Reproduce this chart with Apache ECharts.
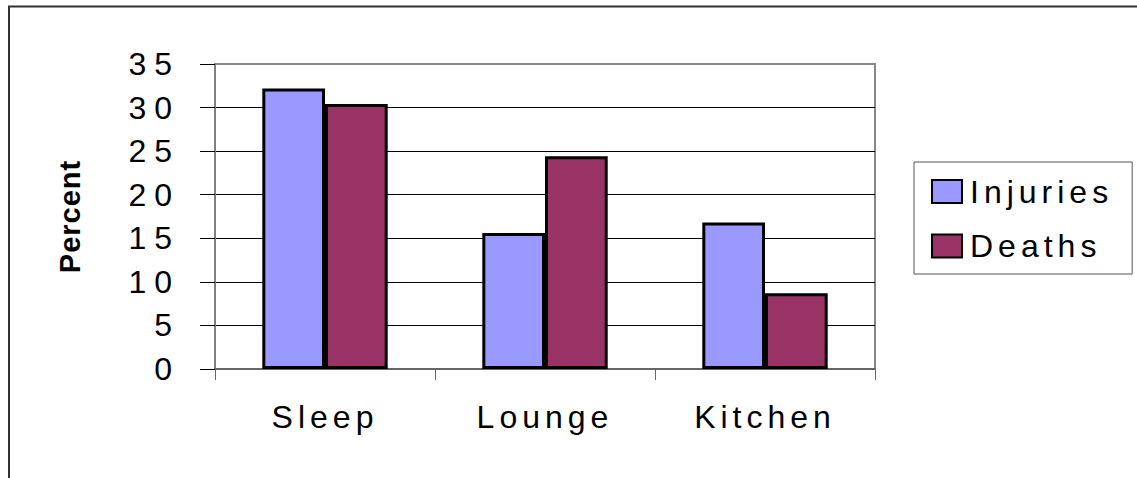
<!DOCTYPE html>
<html>
<head>
<meta charset="utf-8">
<script src="https://cdn.jsdelivr.net/npm/echarts@6/dist/echarts.min.js"></script>
<style>
html,body{margin:0;padding:0;background:#fff;}
#chart{width:1137px;height:478px;}
</style>
</head>
<body>
<div id="chart"></div>
<script>
const categories = ['Sleep', 'Lounge', 'Kitchen'];
const injuries = [32.2, 15.6, 16.8];
const deaths = [30.4, 24.4, 8.7];
const yTicks = [0, 5, 10, 15, 20, 25, 30, 35];
const seriesNames = ['Injuries', 'Deaths'];
const axisTitle = 'Percent';

const FONT = '"Liberation Sans", Arial, sans-serif';
const chart = echarts.init(document.getElementById('chart'), null, {renderer: 'svg'});
chart.setOption({
  animation: false,
  backgroundColor: '#fff',
  graphic: [{
    type: 'rect', silent: true, z: 100,
    shape: {x: 9, y: 6.5, width: 1400, height: 700},
    style: {fill: 'none', stroke: '#333', lineWidth: 2}
  }],
  grid: {
    left: 215, top: 64, width: 660, height: 305,
    show: true, borderColor: '#888', borderWidth: 2, backgroundColor: 'transparent'
  },
  legend: {
    data: seriesNames,
    orient: 'vertical',
    left: 914, top: 162,
    padding: [13.5, 59, 12, 17],
    itemWidth: 30, itemHeight: 23, itemGap: 22.5,
    icon: 'rect',
    borderColor: '#555', borderWidth: 1,
    textStyle: {fontFamily: FONT, fontSize: 32, color: '#000', padding: [0, 0, 0, 3]}
  },
  xAxis: {
    type: 'category',
    data: categories,
    axisLine: {lineStyle: {color: '#666', width: 2}},
    axisTick: {show: true, length: 11, lineStyle: {color: '#666', width: 1}},
    axisLabel: {fontFamily: FONT, fontSize: 32, color: '#000', margin: 32}
  },
  yAxis: {
    type: 'value',
    min: 0, max: 35, interval: 5,
    name: axisTitle,
    nameLocation: 'middle',
    nameGap: 131,
    nameRotate: 90,
    nameTextStyle: {fontFamily: FONT, fontSize: 29, fontWeight: 'bold', color: '#000'},
    axisLine: {show: true, lineStyle: {color: '#808080', width: 2}},
    axisTick: {show: true, length: 15, lineStyle: {color: '#000', width: 1}},
    axisLabel: {fontFamily: FONT, fontSize: 32, color: '#000', margin: 35,
      formatter: v => yTicks.includes(v) ? String(v) : ''},
    splitLine: {show: true, lineStyle: {color: ['#000','#000','#000','#000','#000','#000','#000','#888'], width: 1}}
  },
  series: [
    {
      name: seriesNames[0], type: 'bar', data: injuries,
      barGap: '0%', barCategoryGap: '43%',
      itemStyle: {color: '#9999FF', borderColor: '#000', borderWidth: 3}
    },
    {
      name: seriesNames[1], type: 'bar', data: deaths,
      barGap: '0%', barCategoryGap: '43%',
      itemStyle: {color: '#993366', borderColor: '#000', borderWidth: 3}
    }
  ]
});

function spaceLetters() {
  document.querySelectorAll('#chart text').forEach(t => {
    const s = t.textContent.trim();
    if (s === axisTitle) t.style.letterSpacing = '1px';
    else if (/^\d+$/.test(s)) t.style.letterSpacing = '8px';
    else t.style.letterSpacing = '5px';
  });
}
chart.on('finished', spaceLetters);
setTimeout(spaceLetters, 50);
</script>
</body>
</html>
